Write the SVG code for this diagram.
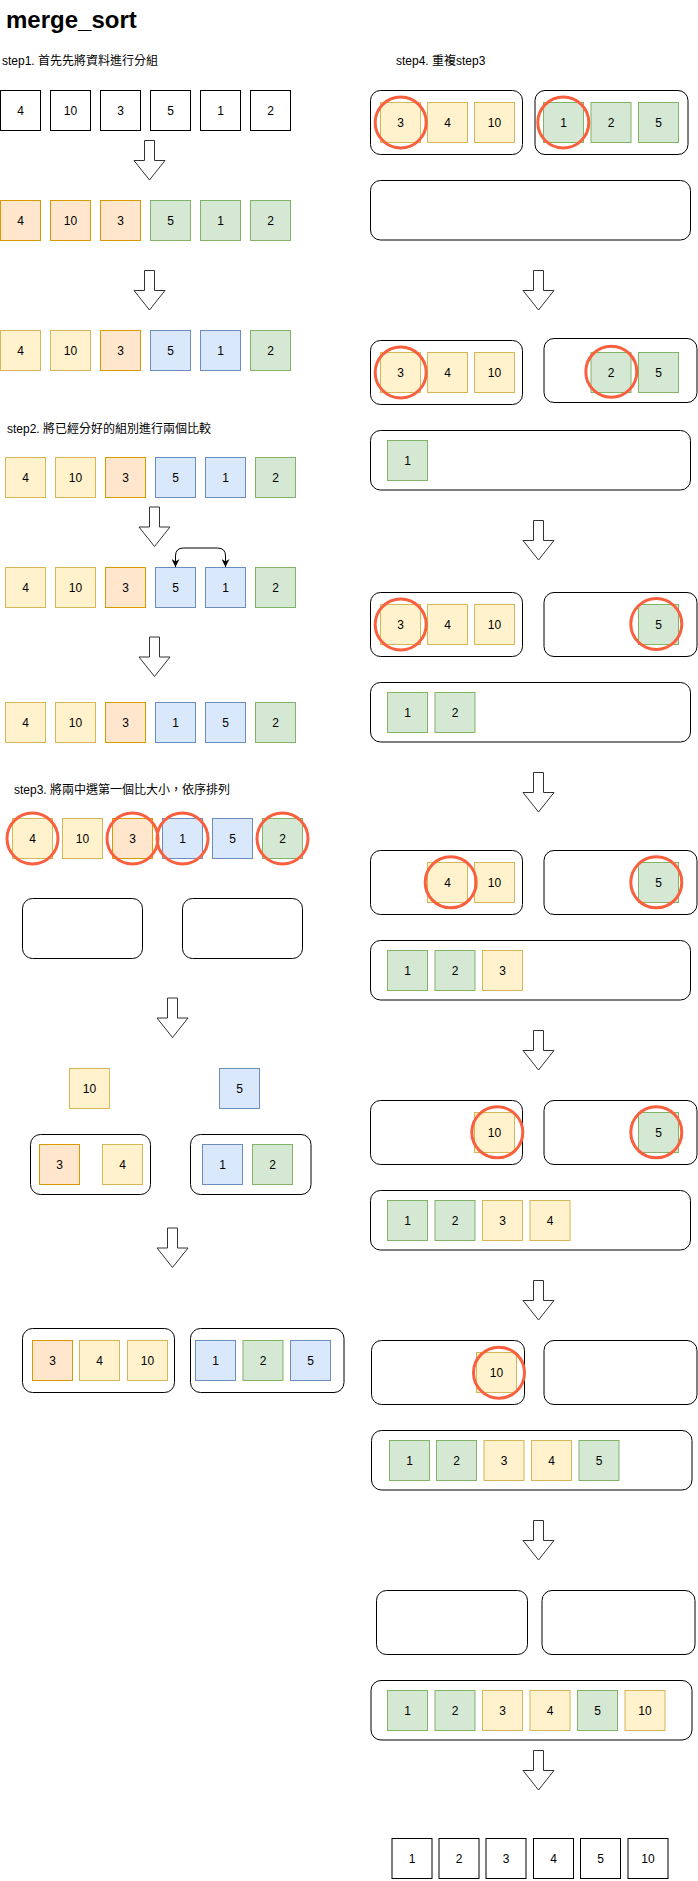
<svg xmlns="http://www.w3.org/2000/svg" xmlns:xlink="http://www.w3.org/1999/xlink" width="698" height="1881" viewBox="0 0 698 1881">
<style>
text{font-family:"Liberation Sans",Arial,"Noto Sans CJK TC",sans-serif;font-size:12px;fill:#000}
.t{text-anchor:middle}
.title{font-size:24px;font-weight:bold}
.y{fill:#fff2cc;stroke:#d6b656}
.o{fill:#ffe6cc;stroke:#d79b00}
.b{fill:#dae8fc;stroke:#6c8ebf}
.g{fill:#d5e8d4;stroke:#82b366}
.w{fill:#fff;stroke:#000}
.c{fill:#fff;stroke:#000}
.hl{fill:none;stroke:#fa5f3e;stroke-width:3}
.arr{fill:#fff;stroke:#333}
.ln{fill:none;stroke:#000;stroke-width:1}
</style>
<defs>
<path id="blk" d="M-5,0 H5 V20 H15.5 L0,39.5 L-15.5,20 H-5 Z"/>
<marker id="ah" viewBox="0 0 10 10" refX="10" refY="5" markerWidth="8" markerHeight="8" markerUnits="userSpaceOnUse" orient="auto-start-reverse"><path d="M0,0 L10,5 L0,10 L3,5 Z" fill="#000"/></marker>
</defs>
<rect width="698" height="1881" fill="#fff"/>

<g id="labels">
<text class="title" x="6" y="28">merge_sort</text>
<text x="2" y="65">step1. 首先先將資料進行分組</text>
<text x="7" y="433">step2. 將已經分好的組別進行兩個比較</text>
<text x="14" y="794">step3. 將兩中選第一個比大小，依序排列</text>
<text x="396" y="65">step4. 重複step3</text>
</g>

<g id="connectors">
<use href="#blk" class="arr" x="149.5" y="140.5"/>
<use href="#blk" class="arr" x="149.5" y="270.5"/>
<use href="#blk" class="arr" x="154.5" y="507"/>
<use href="#blk" class="arr" x="154.5" y="637"/>
<use href="#blk" class="arr" x="172.5" y="998"/>
<use href="#blk" class="arr" x="172.5" y="1228"/>
<use href="#blk" class="arr" x="538.5" y="270.5"/>
<use href="#blk" class="arr" x="538.5" y="520.5"/>
<use href="#blk" class="arr" x="538.5" y="772.5"/>
<use href="#blk" class="arr" x="538.5" y="1030.5"/>
<use href="#blk" class="arr" x="538.5" y="1280.5"/>
<use href="#blk" class="arr" x="538.5" y="1520.5"/>
<use href="#blk" class="arr" x="538.5" y="1750.5"/>
<path class="ln" d="M175.5,567 V556 Q175.5,548 183.5,548 H217.5 Q225.5,548 225.5,556 V567" marker-start="url(#ah)" marker-end="url(#ah)"/>
</g>

<!-- Row 1 -->
<g id="r1">
<g id="r1a"><rect class="w" x="0.5" y="90.5" width="40" height="40"/><text class="t" x="20.5" y="114.5">4</text></g>
<g id="r1b"><rect class="w" x="50.5" y="90.5" width="40" height="40"/><text class="t" x="70.5" y="114.5">10</text></g>
<g id="r1c"><rect class="w" x="100.5" y="90.5" width="40" height="40"/><text class="t" x="120.5" y="114.5">3</text></g>
<g id="r1d"><rect class="w" x="150.5" y="90.5" width="40" height="40"/><text class="t" x="170.5" y="114.5">5</text></g>
<g id="r1e"><rect class="w" x="200.5" y="90.5" width="40" height="40"/><text class="t" x="220.5" y="114.5">1</text></g>
<g id="r1f"><rect class="w" x="250.5" y="90.5" width="40" height="40"/><text class="t" x="270.5" y="114.5">2</text></g>
</g>
<!-- Row 2 -->
<g id="r2">
<g id="r2a"><rect class="o" x="0.5" y="200.5" width="40" height="40"/><text class="t" x="20.5" y="224.5">4</text></g>
<g id="r2b"><rect class="o" x="50.5" y="200.5" width="40" height="40"/><text class="t" x="70.5" y="224.5">10</text></g>
<g id="r2c"><rect class="o" x="100.5" y="200.5" width="40" height="40"/><text class="t" x="120.5" y="224.5">3</text></g>
<g id="r2d"><rect class="g" x="150.5" y="200.5" width="40" height="40"/><text class="t" x="170.5" y="224.5">5</text></g>
<g id="r2e"><rect class="g" x="200.5" y="200.5" width="40" height="40"/><text class="t" x="220.5" y="224.5">1</text></g>
<g id="r2f"><rect class="g" x="250.5" y="200.5" width="40" height="40"/><text class="t" x="270.5" y="224.5">2</text></g>
</g>
<!-- Row 3 -->
<g id="r3">
<g id="r3a"><rect class="y" x="0.5" y="330.5" width="40" height="40"/><text class="t" x="20.5" y="354.5">4</text></g>
<g id="r3b"><rect class="y" x="50.5" y="330.5" width="40" height="40"/><text class="t" x="70.5" y="354.5">10</text></g>
<g id="r3c"><rect class="o" x="100.5" y="330.5" width="40" height="40"/><text class="t" x="120.5" y="354.5">3</text></g>
<g id="r3d"><rect class="b" x="150.5" y="330.5" width="40" height="40"/><text class="t" x="170.5" y="354.5">5</text></g>
<g id="r3e"><rect class="b" x="200.5" y="330.5" width="40" height="40"/><text class="t" x="220.5" y="354.5">1</text></g>
<g id="r3f"><rect class="g" x="250.5" y="330.5" width="40" height="40"/><text class="t" x="270.5" y="354.5">2</text></g>
</g>
<!-- Row 4 -->
<g id="r4">
<g id="r4a"><rect class="y" x="5.5" y="457.5" width="40" height="40"/><text class="t" x="25.5" y="481.5">4</text></g>
<g id="r4b"><rect class="y" x="55.5" y="457.5" width="40" height="40"/><text class="t" x="75.5" y="481.5">10</text></g>
<g id="r4c"><rect class="o" x="105.5" y="457.5" width="40" height="40"/><text class="t" x="125.5" y="481.5">3</text></g>
<g id="r4d"><rect class="b" x="155.5" y="457.5" width="40" height="40"/><text class="t" x="175.5" y="481.5">5</text></g>
<g id="r4e"><rect class="b" x="205.5" y="457.5" width="40" height="40"/><text class="t" x="225.5" y="481.5">1</text></g>
<g id="r4f"><rect class="g" x="255.5" y="457.5" width="40" height="40"/><text class="t" x="275.5" y="481.5">2</text></g>
</g>
<!-- Row 5 -->
<g id="r5">
<g id="r5a"><rect class="y" x="5.5" y="567.5" width="40" height="40"/><text class="t" x="25.5" y="591.5">4</text></g>
<g id="r5b"><rect class="y" x="55.5" y="567.5" width="40" height="40"/><text class="t" x="75.5" y="591.5">10</text></g>
<g id="r5c"><rect class="o" x="105.5" y="567.5" width="40" height="40"/><text class="t" x="125.5" y="591.5">3</text></g>
<g id="r5d"><rect class="b" x="155.5" y="567.5" width="40" height="40"/><text class="t" x="175.5" y="591.5">5</text></g>
<g id="r5e"><rect class="b" x="205.5" y="567.5" width="40" height="40"/><text class="t" x="225.5" y="591.5">1</text></g>
<g id="r5f"><rect class="g" x="255.5" y="567.5" width="40" height="40"/><text class="t" x="275.5" y="591.5">2</text></g>
</g>
<!-- Row 6 -->
<g id="r6">
<g id="r6a"><rect class="y" x="5.5" y="702.5" width="40" height="40"/><text class="t" x="25.5" y="726.5">4</text></g>
<g id="r6b"><rect class="y" x="55.5" y="702.5" width="40" height="40"/><text class="t" x="75.5" y="726.5">10</text></g>
<g id="r6c"><rect class="o" x="105.5" y="702.5" width="40" height="40"/><text class="t" x="125.5" y="726.5">3</text></g>
<g id="r6d"><rect class="b" x="155.5" y="702.5" width="40" height="40"/><text class="t" x="175.5" y="726.5">1</text></g>
<g id="r6e"><rect class="b" x="205.5" y="702.5" width="40" height="40"/><text class="t" x="225.5" y="726.5">5</text></g>
<g id="r6f"><rect class="g" x="255.5" y="702.5" width="40" height="40"/><text class="t" x="275.5" y="726.5">2</text></g>
</g>
<!-- Row 7 -->
<g id="r7">
<g id="r7a"><rect class="y" x="12.5" y="818.5" width="40" height="40"/><text class="t" x="32.5" y="842.5">4</text></g>
<g id="r7b"><rect class="y" x="62.5" y="818.5" width="40" height="40"/><text class="t" x="82.5" y="842.5">10</text></g>
<g id="r7c"><rect class="o" x="112.5" y="818.5" width="40" height="40"/><text class="t" x="132.5" y="842.5">3</text></g>
<g id="r7d"><rect class="b" x="162.5" y="818.5" width="40" height="40"/><text class="t" x="182.5" y="842.5">1</text></g>
<g id="r7e"><rect class="b" x="212.5" y="818.5" width="40" height="40"/><text class="t" x="232.5" y="842.5">5</text></g>
<g id="r7f"><rect class="g" x="262.5" y="818.5" width="40" height="40"/><text class="t" x="282.5" y="842.5">2</text></g>
<circle class="hl" cx="32.5" cy="838.5" r="25.5"/>
<circle class="hl" cx="132.5" cy="838.5" r="25.5"/>
<circle class="hl" cx="182.5" cy="838.5" r="25.5"/>
<circle class="hl" cx="282.5" cy="838.5" r="25.5"/>
</g>
<g id="l-cont1">
<rect class="c" x="22.5" y="898.5" width="120" height="60" rx="10"/>
<rect class="c" x="182.5" y="898.5" width="120" height="60" rx="10"/>
</g>
<g id="l-s2">
<g id="l2a"><rect class="y" x="69.5" y="1068.5" width="40" height="40"/><text class="t" x="89.5" y="1092.5">10</text></g>
<g id="l2b"><rect class="b" x="219.5" y="1068.5" width="40" height="40"/><text class="t" x="239.5" y="1092.5">5</text></g>
<rect class="c" x="30.5" y="1134.5" width="120" height="60" rx="10"/>
<rect class="c" x="190.5" y="1134.5" width="120.5" height="60" rx="10"/>
<g id="l2c"><rect class="o" x="39.5" y="1144.5" width="40" height="40"/><text class="t" x="59.5" y="1168.5">3</text></g>
<g id="l2d"><rect class="y" x="102.5" y="1144.5" width="40" height="40"/><text class="t" x="122.5" y="1168.5">4</text></g>
<g id="l2e"><rect class="b" x="202.5" y="1144.5" width="40" height="40"/><text class="t" x="222.5" y="1168.5">1</text></g>
<g id="l2f"><rect class="g" x="252.5" y="1144.5" width="40" height="40"/><text class="t" x="272.5" y="1168.5">2</text></g>
</g>
<g id="l-s3">
<rect class="c" x="22.5" y="1328.5" width="152" height="64" rx="10"/>
<rect class="c" x="190.5" y="1328.5" width="153.5" height="64" rx="10"/>
<g id="l3a"><rect class="o" x="32.5" y="1340.5" width="40" height="40"/><text class="t" x="52.5" y="1364.5">3</text></g>
<g id="l3b"><rect class="y" x="79.5" y="1340.5" width="40" height="40"/><text class="t" x="99.5" y="1364.5">4</text></g>
<g id="l3c"><rect class="y" x="127.5" y="1340.5" width="40" height="40"/><text class="t" x="147.5" y="1364.5">10</text></g>
<g id="l3d"><rect class="b" x="195.5" y="1340.5" width="40" height="40"/><text class="t" x="215.5" y="1364.5">1</text></g>
<g id="l3e"><rect class="g" x="243" y="1340.5" width="40" height="40"/><text class="t" x="263" y="1364.5">2</text></g>
<g id="l3f"><rect class="b" x="290.5" y="1340.5" width="40" height="40"/><text class="t" x="310.5" y="1364.5">5</text></g>
</g>

<!-- Right column -->
<g id="s1">
<rect class="c" x="370.5" y="90.5" width="152" height="64" rx="10"/>
<rect class="c" x="535" y="90.5" width="153" height="64" rx="10"/>
<g id="s1a"><rect class="y" x="380.5" y="102.5" width="40" height="40"/><text class="t" x="400.5" y="126.5">3</text></g>
<g id="s1b"><rect class="y" x="427.5" y="102.5" width="40" height="40"/><text class="t" x="447.5" y="126.5">4</text></g>
<g id="s1c"><rect class="y" x="474.5" y="102.5" width="40" height="40"/><text class="t" x="494.5" y="126.5">10</text></g>
<g id="s1d"><rect class="g" x="543.5" y="102.5" width="40" height="40"/><text class="t" x="563.5" y="126.5">1</text></g>
<g id="s1e"><rect class="g" x="591" y="102.5" width="40" height="40"/><text class="t" x="611" y="126.5">2</text></g>
<g id="s1f"><rect class="g" x="638.5" y="102.5" width="40" height="40"/><text class="t" x="658.5" y="126.5">5</text></g>
<circle class="hl" cx="400.7" cy="122.5" r="25.5"/>
<circle class="hl" cx="563.3" cy="122.5" r="25.5"/>
<rect class="c" x="370.5" y="180.5" width="320" height="59.5" rx="10"/>
</g>
<g id="s2">
<rect class="c" x="370.5" y="340.5" width="152" height="64" rx="10"/>
<rect class="c" x="544" y="338.5" width="153" height="64" rx="10"/>
<g id="s2a"><rect class="y" x="380.5" y="352.5" width="40" height="40"/><text class="t" x="400.5" y="376.5">3</text></g>
<g id="s2b"><rect class="y" x="427.5" y="352.5" width="40" height="40"/><text class="t" x="447.5" y="376.5">4</text></g>
<g id="s2c"><rect class="y" x="474.5" y="352.5" width="40" height="40"/><text class="t" x="494.5" y="376.5">10</text></g>
<g id="s2d"><rect class="g" x="591" y="352.5" width="40" height="40"/><text class="t" x="611" y="376.5">2</text></g>
<g id="s2e"><rect class="g" x="638.5" y="352.5" width="40" height="40"/><text class="t" x="658.5" y="376.5">5</text></g>
<circle class="hl" cx="400.7" cy="372.5" r="25.5"/>
<circle class="hl" cx="611.3" cy="371.7" r="25.5"/>
<rect class="c" x="370.5" y="430.5" width="320" height="59.5" rx="10"/>
<g id="s2f"><rect class="g" x="387.5" y="440.5" width="40" height="40"/><text class="t" x="407.5" y="464.5">1</text></g>
</g>
<g id="s3">
<rect class="c" x="370.5" y="592.5" width="152" height="64" rx="10"/>
<rect class="c" x="544" y="592.5" width="153" height="64" rx="10"/>
<g id="s3a"><rect class="y" x="380.5" y="604.5" width="40" height="40"/><text class="t" x="400.5" y="628.5">3</text></g>
<g id="s3b"><rect class="y" x="427.5" y="604.5" width="40" height="40"/><text class="t" x="447.5" y="628.5">4</text></g>
<g id="s3c"><rect class="y" x="474.5" y="604.5" width="40" height="40"/><text class="t" x="494.5" y="628.5">10</text></g>
<g id="s3d"><rect class="g" x="638.5" y="604.5" width="40" height="40"/><text class="t" x="658.5" y="628.5">5</text></g>
<circle class="hl" cx="400.7" cy="624.5" r="25.5"/>
<circle class="hl" cx="656.3" cy="624" r="25.5"/>
<rect class="c" x="370.5" y="682.5" width="320" height="59.5" rx="10"/>
<g id="s3e"><rect class="g" x="387.5" y="692.5" width="40" height="40"/><text class="t" x="407.5" y="716.5">1</text></g>
<g id="s3f"><rect class="g" x="435" y="692.5" width="40" height="40"/><text class="t" x="455" y="716.5">2</text></g>
</g>
<g id="s4">
<rect class="c" x="370.5" y="850.5" width="152" height="64" rx="10"/>
<rect class="c" x="544" y="850.5" width="153" height="64" rx="10"/>
<g id="s4a"><rect class="y" x="427.5" y="862.5" width="40" height="40"/><text class="t" x="447.5" y="886.5">4</text></g>
<g id="s4b"><rect class="y" x="474.5" y="862.5" width="40" height="40"/><text class="t" x="494.5" y="886.5">10</text></g>
<g id="s4c"><rect class="g" x="638.5" y="862.5" width="40" height="40"/><text class="t" x="658.5" y="886.5">5</text></g>
<circle class="hl" cx="450.7" cy="882.3" r="25.5"/>
<circle class="hl" cx="656.3" cy="882.3" r="25.5"/>
<rect class="c" x="370.5" y="940.5" width="320" height="59.5" rx="10"/>
<g id="s4d"><rect class="g" x="387.5" y="950.5" width="40" height="40"/><text class="t" x="407.5" y="974.5">1</text></g>
<g id="s4e"><rect class="g" x="435" y="950.5" width="40" height="40"/><text class="t" x="455" y="974.5">2</text></g>
<g id="s4f"><rect class="y" x="482.5" y="950.5" width="40" height="40"/><text class="t" x="502.5" y="974.5">3</text></g>
</g>
<g id="s5">
<rect class="c" x="370.5" y="1100.5" width="152" height="64" rx="10"/>
<rect class="c" x="544" y="1100.5" width="153" height="64" rx="10"/>
<g id="s5a"><rect class="y" x="474.5" y="1112.5" width="40" height="40"/><text class="t" x="494.5" y="1136.5">10</text></g>
<g id="s5b"><rect class="g" x="638.5" y="1112.5" width="40" height="40"/><text class="t" x="658.5" y="1136.5">5</text></g>
<circle class="hl" cx="497.3" cy="1132.3" r="25.5"/>
<circle class="hl" cx="656.3" cy="1132.3" r="25.5"/>
<rect class="c" x="370.5" y="1190.5" width="320" height="59.5" rx="10"/>
<g id="s5c"><rect class="g" x="387.5" y="1200.5" width="40" height="40"/><text class="t" x="407.5" y="1224.5">1</text></g>
<g id="s5d"><rect class="g" x="435" y="1200.5" width="40" height="40"/><text class="t" x="455" y="1224.5">2</text></g>
<g id="s5e"><rect class="y" x="482.5" y="1200.5" width="40" height="40"/><text class="t" x="502.5" y="1224.5">3</text></g>
<g id="s5f"><rect class="y" x="530" y="1200.5" width="40" height="40"/><text class="t" x="550" y="1224.5">4</text></g>
</g>
<g id="s6">
<rect class="c" x="371.5" y="1340.5" width="153" height="64" rx="10"/>
<rect class="c" x="544" y="1340.5" width="153" height="64" rx="10"/>
<g id="s6a"><rect class="y" x="476.5" y="1352.5" width="40" height="40"/><text class="t" x="496.5" y="1376.5">10</text></g>
<circle class="hl" cx="499" cy="1372.7" r="25.5"/>
<rect class="c" x="371.5" y="1430.5" width="320.5" height="59.5" rx="10"/>
<g id="s6b"><rect class="g" x="389.5" y="1440.5" width="40" height="40"/><text class="t" x="409.5" y="1464.5">1</text></g>
<g id="s6c"><rect class="g" x="436.5" y="1440.5" width="40" height="40"/><text class="t" x="456.5" y="1464.5">2</text></g>
<g id="s6d"><rect class="y" x="484" y="1440.5" width="40" height="40"/><text class="t" x="504" y="1464.5">3</text></g>
<g id="s6e"><rect class="y" x="531.5" y="1440.5" width="40" height="40"/><text class="t" x="551.5" y="1464.5">4</text></g>
<g id="s6f"><rect class="g" x="579" y="1440.5" width="40" height="40"/><text class="t" x="599" y="1464.5">5</text></g>
</g>
<g id="s7">
<rect class="c" x="376.5" y="1590.5" width="151" height="64" rx="10"/>
<rect class="c" x="542" y="1590.5" width="153" height="64" rx="10"/>
<rect class="c" x="371" y="1680.5" width="321" height="59.5" rx="10"/>
<g id="s7a"><rect class="g" x="387.5" y="1690.5" width="40" height="40"/><text class="t" x="407.5" y="1714.5">1</text></g>
<g id="s7b"><rect class="g" x="435" y="1690.5" width="40" height="40"/><text class="t" x="455" y="1714.5">2</text></g>
<g id="s7c"><rect class="y" x="482.5" y="1690.5" width="40" height="40"/><text class="t" x="502.5" y="1714.5">3</text></g>
<g id="s7d"><rect class="y" x="530" y="1690.5" width="40" height="40"/><text class="t" x="550" y="1714.5">4</text></g>
<g id="s7e"><rect class="g" x="577.5" y="1690.5" width="40" height="40"/><text class="t" x="597.5" y="1714.5">5</text></g>
<g id="s7f"><rect class="y" x="625" y="1690.5" width="40" height="40"/><text class="t" x="645" y="1714.5">10</text></g>
</g>
<g id="s8">
<g id="s8a"><rect class="w" x="392" y="1838.5" width="40" height="40"/><text class="t" x="412" y="1862.5">1</text></g>
<g id="s8b"><rect class="w" x="439" y="1838.5" width="40" height="40"/><text class="t" x="459" y="1862.5">2</text></g>
<g id="s8c"><rect class="w" x="486" y="1838.5" width="40" height="40"/><text class="t" x="506" y="1862.5">3</text></g>
<g id="s8d"><rect class="w" x="533.5" y="1838.5" width="40" height="40"/><text class="t" x="553.5" y="1862.5">4</text></g>
<g id="s8e"><rect class="w" x="580.5" y="1838.5" width="40" height="40"/><text class="t" x="600.5" y="1862.5">5</text></g>
<g id="s8f"><rect class="w" x="628" y="1838.5" width="40" height="40"/><text class="t" x="648" y="1862.5">10</text></g>
</g>
</svg>
